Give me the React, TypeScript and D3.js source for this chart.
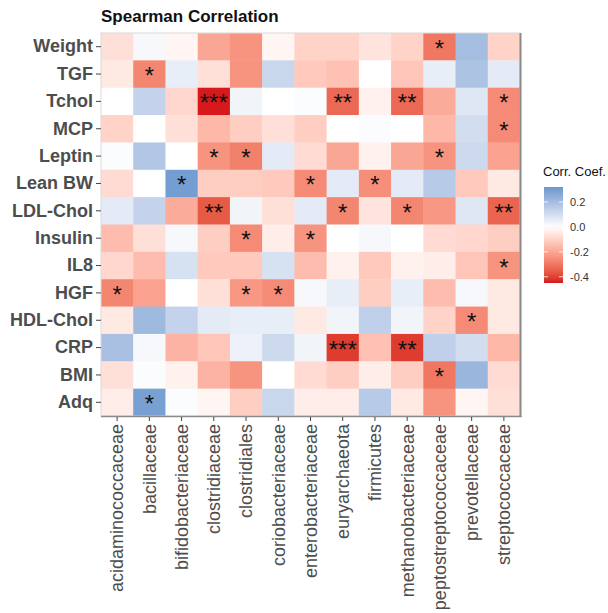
import React, { useEffect, useRef } from 'react';
import * as d3 from 'd3';

const rowNames = ["Weight", "TGF", "Tchol", "MCP", "Leptin", "Lean BW", "LDL-Chol", "Insulin", "IL8", "HGF", "HDL-Chol", "CRP", "BMI", "Adq"];
const colNames = ["acidaminococcaceae", "bacillaceae", "bifidobacteriaceae", "clostridiaceae", "clostridiales", "coriobacteriaceae", "enterobacteriaceae", "euryarchaeota", "firmicutes", "methanobacteriaceae", "peptostreptococcaceae", "prevotellaceae", "streptococcaceae"];

// correlation coefficient, one array per row (same order as colNames)
const corrValues = [
  [-0.07, 0.02, -0.02, -0.2, -0.24, -0.02, -0.1, -0.1, -0.06, -0.1, -0.3, 0.2, -0.1],
  [-0.05, -0.27, 0.05, -0.07, -0.24, 0.12, -0.12, -0.14, 0, -0.13, 0.05, 0.18, 0.06],
  [0, 0.13, -0.09, -0.45, 0.03, 0, 0.01, -0.33, -0.03, -0.33, -0.19, 0.07, -0.26],
  [-0.1, 0, -0.07, -0.16, -0.11, -0.07, -0.11, 0, 0.01, 0, -0.16, 0.1, -0.26],
  [0.01, 0.17, 0, -0.24, -0.28, 0.06, -0.08, -0.2, -0.03, -0.2, -0.24, 0.11, -0.21],
  [-0.08, 0, 0.3, -0.11, -0.11, -0.12, -0.26, 0.06, -0.25, 0.06, 0.16, -0.12, -0.05],
  [0.06, 0.13, -0.19, -0.36, 0.03, -0.07, 0.06, -0.27, -0.06, -0.27, -0.23, 0.07, -0.34],
  [-0.15, -0.07, 0.02, -0.11, -0.26, -0.04, -0.24, 0, 0.02, 0, -0.08, -0.09, -0.11],
  [-0.09, -0.15, 0.09, -0.12, -0.12, 0.09, -0.15, -0.03, -0.12, -0.03, -0.04, -0.13, -0.24],
  [-0.27, -0.21, 0, -0.07, -0.23, -0.26, 0.02, 0.05, -0.11, 0.05, -0.15, 0.02, -0.05],
  [-0.05, 0.21, 0.13, 0.06, 0.05, 0.05, -0.05, 0.03, 0.14, 0.03, -0.1, -0.26, -0.05],
  [0.19, 0.02, -0.17, -0.13, 0.04, 0.11, 0.03, -0.41, -0.14, -0.41, 0.14, 0.1, -0.16],
  [-0.07, 0.01, -0.03, -0.17, -0.24, 0, -0.08, -0.11, -0.04, -0.11, -0.3, 0.22, -0.08],
  [-0.04, 0.29, 0.01, -0.02, -0.11, 0.12, -0.04, -0.04, 0.16, -0.05, -0.24, -0.02, -0.07],
];

// significance marks
const sigMarks = [
  ["", "", "", "", "", "", "", "", "", "", "*", "", ""],
  ["", "*", "", "", "", "", "", "", "", "", "", "", ""],
  ["", "", "", "***", "", "", "", "**", "", "**", "", "", "*"],
  ["", "", "", "", "", "", "", "", "", "", "", "", "*"],
  ["", "", "", "*", "*", "", "", "", "", "", "*", "", ""],
  ["", "", "*", "", "", "", "*", "", "*", "", "", "", ""],
  ["", "", "", "**", "", "", "", "*", "", "*", "", "", "**"],
  ["", "", "", "", "*", "", "*", "", "", "", "", "", ""],
  ["", "", "", "", "", "", "", "", "", "", "", "", "*"],
  ["*", "", "", "", "*", "*", "", "", "", "", "", "", ""],
  ["", "", "", "", "", "", "", "", "", "", "", "*", ""],
  ["", "", "", "", "", "", "", "***", "", "**", "", "", ""],
  ["", "", "", "", "", "", "", "", "", "", "*", "", ""],
  ["", "*", "", "", "", "", "", "", "", "", "", "", ""],
];

const legendTicks = [0.2, 0.0, -0.2, -0.4];

const FONT = "'Liberation Sans', Arial, Helvetica, sans-serif";

const App: React.FC = () => {
  const svgRef = useRef<SVGSVGElement>(null);

  useEffect(() => {
    if (!svgRef.current) return;
    const root = d3.select(svgRef.current);
    root.selectAll("*").remove();

    const W = 608, H = 613;
    root.attr("width", W).attr("height", H);

    const panel = { left: 101, top: 33, right: 520, bottom: 416 };

    const x = d3.scaleBand().domain(colNames).range([panel.left, panel.right]);
    const y = d3.scaleBand().domain(rowNames).range([panel.top, panel.bottom]);

    const color = d3.scaleLinear<string>()
      .domain([-0.45, 0, 0.32])
      .range(["#d7191c", "#ffffff", "#6a97ce"])
      .interpolate(d3.interpolateLab)
      .clamp(true);

    const cells = rowNames.flatMap((r, i) =>
      colNames.map((c, j) => ({ r, c, v: corrValues[i][j], s: sigMarks[i][j] }))
    );

    // tiles
    root.append("g")
      .selectAll("rect")
      .data(cells)
      .join("rect")
      .attr("x", d => x(d.c)!)
      .attr("y", d => y(d.r)!)
      .attr("width", x.bandwidth() + 0.5)
      .attr("height", y.bandwidth() + 0.5)
      .attr("fill", d => color(d.v));

    // stars
    root.append("g")
      .selectAll("text")
      .data(cells.filter(d => d.s))
      .join("text")
      .attr("x", d => x(d.c)! + x.bandwidth() / 2)
      .attr("y", d => y(d.r)! + y.bandwidth() / 2 + 10)
      .attr("text-anchor", "middle")
      .attr("font-family", FONT)
      .attr("font-size", 24)
      .attr("fill", "#111")
      .text(d => d.s);

    // panel border
    root.append("rect")
      .attr("x", panel.left).attr("y", panel.top)
      .attr("width", panel.right - panel.left)
      .attr("height", panel.bottom - panel.top)
      .attr("fill", "none")
      .attr("stroke", "#d9d9d9")
      .attr("stroke-width", 1);
    root.append("line")
      .attr("x1", panel.right + 0.5).attr("x2", panel.right + 0.5)
      .attr("y1", panel.top).attr("y2", panel.bottom + 1)
      .attr("stroke", "#8a8a8a").attr("stroke-width", 2);
    root.append("line")
      .attr("x1", panel.left).attr("x2", panel.right + 1.5)
      .attr("y1", panel.bottom + 0.5).attr("y2", panel.bottom + 0.5)
      .attr("stroke", "#8a8a8a").attr("stroke-width", 1.5);

    // y axis
    const yAxis = root.append("g")
      .attr("transform", `translate(${panel.left},0)`)
      .call(d3.axisLeft(y).tickSize(5).tickPadding(3));
    yAxis.select(".domain").remove();
    yAxis.selectAll(".tick line").attr("stroke", "#444");
    yAxis.selectAll(".tick text")
      .attr("font-family", FONT)
      .attr("font-size", 18)
      .attr("font-weight", "bold")
      .attr("fill", "#4d4d4d");

    // x axis
    const xAxis = root.append("g")
      .attr("transform", `translate(0,${panel.bottom + 1})`)
      .call(d3.axisBottom(x).tickSize(4));
    xAxis.select(".domain").remove();
    xAxis.selectAll(".tick line").attr("stroke", "#444");
    xAxis.selectAll(".tick text")
      .attr("font-family", FONT)
      .attr("font-size", 18)
      .attr("fill", "#4d4d4d")
      .attr("text-anchor", "end")
      .attr("dy", "0.35em")
      .attr("transform", "translate(0,7) rotate(-90)")
      .attr("x", 0)
      .attr("y", 0);

    // title
    root.append("text")
      .attr("x", panel.left)
      .attr("y", 22)
      .attr("font-family", FONT)
      .attr("font-size", 17)
      .attr("font-weight", "bold")
      .attr("fill", "#111")
      .text("Spearman Correlation");

    // legend
    const lg = { x: 544, w: 19 };
    const ly = d3.scaleLinear().domain([-0.45, 0.32]).range([283, 187]);

    const defs = root.append("defs");
    const grad = defs.append("linearGradient")
      .attr("id", "corrGrad")
      .attr("x1", 0).attr("x2", 0).attr("y1", 1).attr("y2", 0);
    d3.range(0, 1.0001, 0.05).forEach(t => {
      const v = -0.45 + t * (0.32 + 0.45);
      grad.append("stop").attr("offset", t).attr("stop-color", color(v));
    });

    root.append("text")
      .attr("x", lg.x - 1)
      .attr("y", 176)
      .attr("font-family", FONT)
      .attr("font-size", 13)
      .attr("fill", "#111")
      .text("Corr. Coef.");

    root.append("rect")
      .attr("x", lg.x)
      .attr("y", ly(0.32))
      .attr("width", lg.w)
      .attr("height", ly(-0.45) - ly(0.32))
      .attr("fill", "url(#corrGrad)");

    const lt = root.append("g")
      .selectAll("g")
      .data(legendTicks)
      .join("g");
    lt.append("line")
      .attr("x1", lg.x).attr("x2", lg.x + 4)
      .attr("y1", d => ly(d)).attr("y2", d => ly(d))
      .attr("stroke", "white").attr("stroke-width", 0.8);
    lt.append("line")
      .attr("x1", lg.x + lg.w - 4).attr("x2", lg.x + lg.w)
      .attr("y1", d => ly(d)).attr("y2", d => ly(d))
      .attr("stroke", "white").attr("stroke-width", 0.8);
    lt.append("text")
      .attr("x", lg.x + lg.w + 7)
      .attr("y", d => ly(d))
      .attr("dy", "0.35em")
      .attr("font-family", FONT)
      .attr("font-size", 11)
      .attr("fill", "#333")
      .text(d => d.toFixed(1));
  }, []);

  return (
    <svg
      ref={svgRef}
      style={{ position: "absolute", left: 0, top: 0, display: "block", background: "white" }}
    />
  );
};

export default App;
